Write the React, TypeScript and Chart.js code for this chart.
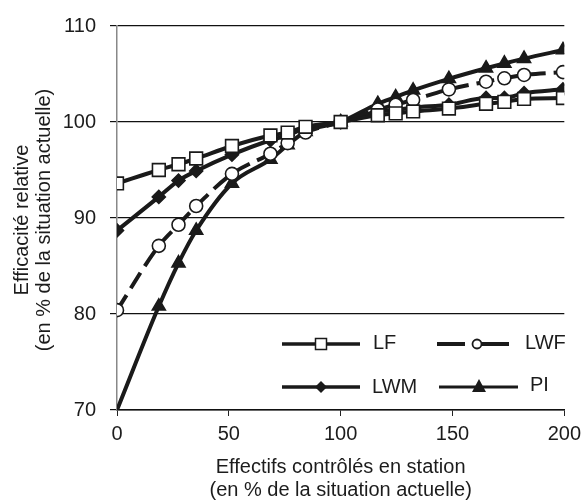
import React, { useEffect, useRef } from 'react';
import { Chart, registerables } from 'chart.js';

Chart.register(...registerables);

const xValues = [0, 18.7, 27.5, 35.4, 51.4, 68.6, 76.3, 84.3, 100, 116.6, 124.6, 132.4, 148.4, 165, 173.2, 182, 199.4];
const lfValues = [93.6, 95.0, 95.6, 96.2, 97.5, 98.6, 98.9, 99.5, 100, 100.7, 100.9, 101.1, 101.4, 101.9, 102.1, 102.4, 102.5];
const lwfValues = [80.4, 87.1, 89.3, 91.25, 94.6, 96.7, 97.8, 98.9, 100, 101.3, 101.8, 102.3, 103.4, 104.2, 104.55, 104.9, 105.2];
const lwmValues = [88.7, 92.2, 93.9, 94.9, 96.6, 98.1, 98.6, 99.4, 100, 101.1, 101.25, 101.5, 101.8, 102.5, 102.5, 103.0, 103.4];
const piValues = [70, 80.8, 85.3, 88.7, 93.6, 96.1, 97.6, 99.0, 100, 101.9, 102.6, 103.3, 104.5, 105.6, 106.1, 106.6, 107.5];

const seriesNames = ['LF', 'LWF', 'LWM', 'PI'];
const xTickMin = 0;
const xTickMax = 200;
const xTickStep = 50;
const yTickMin = 70;
const yTickMax = 110;
const yTickStep = 10;
const yTitle = ['Efficacité relative', '(en % de la situation actuelle)'];
const xTitle = ['Effectifs contrôlés en station', '(en % de la situation actuelle)'];

const FONT = "'Liberation Sans', Arial, sans-serif";
const INK = '#1a1a1a';
const TEXT = '#1c1c1c';

const toPoints = (ys: number[]) => ys.map((y, i) => ({ x: xValues[i], y }));

const decorPlugin = {
  id: 'decor',
  afterDraw(chart: any) {
    const ctx = chart.ctx as CanvasRenderingContext2D;
    const area = chart.chartArea;
    ctx.save();
    ctx.fillStyle = TEXT;
    ctx.font = `20px ${FONT}`;
    ctx.textAlign = 'center';
    ctx.textBaseline = 'middle';
    // y title
    const cy = (area.top + area.bottom) / 2 + 2;
    ctx.save();
    ctx.translate(22, cy);
    ctx.rotate(-Math.PI / 2);
    ctx.fillText(yTitle[0], 0, 0);
    ctx.restore();
    ctx.save();
    ctx.translate(44, cy);
    ctx.rotate(-Math.PI / 2);
    ctx.fillText(yTitle[1], 0, 0);
    ctx.restore();
    // x title
    const cx = (area.left + area.right) / 2;
    ctx.fillText(xTitle[0], cx, 467);
    ctx.fillText(xTitle[1], cx, 490);

    // legend
    const row1 = 344;
    const row2 = 387;
    ctx.strokeStyle = INK;
    ctx.lineWidth = 3.5;
    ctx.lineCap = 'butt';
    // LF
    ctx.beginPath();
    ctx.moveTo(282, row1);
    ctx.lineTo(360, row1);
    ctx.stroke();
    ctx.fillStyle = '#fff';
    ctx.lineWidth = 1.5;
    ctx.fillRect(315.5, row1 - 5.5, 11, 11);
    ctx.strokeRect(315.5, row1 - 5.5, 11, 11);
    // LWM
    ctx.lineWidth = 3.5;
    ctx.beginPath();
    ctx.moveTo(282, row2);
    ctx.lineTo(360, row2);
    ctx.stroke();
    ctx.fillStyle = INK;
    ctx.beginPath();
    ctx.moveTo(321, row2 - 6);
    ctx.lineTo(327, row2);
    ctx.lineTo(321, row2 + 6);
    ctx.lineTo(315, row2);
    ctx.closePath();
    ctx.fill();
    // LWF
    ctx.lineWidth = 4;
    ctx.beginPath();
    ctx.moveTo(437, row1);
    ctx.lineTo(465, row1);
    ctx.moveTo(478, row1);
    ctx.lineTo(509, row1);
    ctx.stroke();
    ctx.fillStyle = '#fff';
    ctx.lineWidth = 1.8;
    ctx.beginPath();
    ctx.arc(477, row1, 4.5, 0, Math.PI * 2);
    ctx.fill();
    ctx.stroke();
    // PI
    ctx.lineWidth = 3;
    ctx.beginPath();
    ctx.moveTo(439, row2);
    ctx.lineTo(518, row2);
    ctx.stroke();
    ctx.fillStyle = INK;
    ctx.beginPath();
    ctx.moveTo(479, row2 - 8);
    ctx.lineTo(486, row2 + 5);
    ctx.lineTo(472, row2 + 5);
    ctx.closePath();
    ctx.fill();
    // legend text
    ctx.fillStyle = TEXT;
    ctx.textAlign = 'left';
    ctx.fillText(seriesNames[0], 373, row1 - 1);
    ctx.fillText(seriesNames[1], 525, row1 - 1);
    ctx.fillText(seriesNames[2], 372, row2);
    ctx.fillText(seriesNames[3], 530, row2 - 2);
    ctx.restore();
  },
};

export default function App() {
  const canvasRef = useRef<HTMLCanvasElement | null>(null);

  useEffect(() => {
    if (!canvasRef.current) return;
    const common = {
      borderColor: INK,
      borderWidth: 4,
      pointBorderColor: INK,
      pointBorderWidth: 1.6,
      cubicInterpolationMode: 'monotone' as const,
      fill: false,
    };
    const chart = new Chart(canvasRef.current, {
      type: 'line',
      data: {
        datasets: [
          {
            ...common,
            label: seriesNames[0],
            data: toPoints(lfValues),
            pointStyle: 'rect',
            pointRadius: 9,
            pointBackgroundColor: '#fff',
          },
          {
            ...common,
            label: seriesNames[1],
            data: toPoints(lwfValues),
            borderDash: [18, 8],
            pointStyle: 'circle',
            pointRadius: 6.5,
            pointBackgroundColor: '#fff',
          },
          {
            ...common,
            label: seriesNames[2],
            data: toPoints(lwmValues),
            pointStyle: 'rectRot',
            pointRadius: 6.5,
            pointBackgroundColor: INK,
          },
          {
            ...common,
            label: seriesNames[3],
            data: toPoints(piValues),
            pointStyle: 'triangle',
            pointRadius: piValues.map((_, i) => (i === 0 ? 0 : 7.5)),
            pointBackgroundColor: INK,
          },
        ],
      },
      options: {
        responsive: false,
        animation: false,
        layout: { padding: { top: 26, right: 20, left: 0, bottom: 0 } },
        plugins: {
          legend: { display: false },
          tooltip: { enabled: false },
        },
        scales: {
          x: {
            type: 'linear',
            min: xTickMin,
            max: xTickMax,
            ticks: {
              stepSize: xTickStep,
              color: TEXT,
              font: { family: FONT, size: 20 },
              padding: 6,
            },
            grid: {
              drawOnChartArea: false,
              drawTicks: true,
              tickLength: 6,
              color: '#222',
            },
            border: { display: true, color: '#111', width: 1.5 },
            afterFit: (s: any) => {
              s.height = 91;
            },
          },
          y: {
            type: 'linear',
            min: yTickMin,
            max: yTickMax,
            ticks: {
              stepSize: yTickStep,
              color: TEXT,
              font: { family: FONT, size: 20 },
              padding: 14,
            },
            grid: {
              color: '#111',
              lineWidth: 1.2,
              tickLength: 7,
            },
            border: { display: true, color: '#888', width: 1.5 },
            afterFit: (s: any) => {
              s.width = 117;
            },
          },
        },
      },
      plugins: [decorPlugin],
    });
    return () => chart.destroy();
  }, []);

  return (
    <div style={{ position: 'fixed', left: 0, top: 0, width: 587, height: 501, background: '#fff' }}>
      <canvas ref={canvasRef} width={587} height={501} />
    </div>
  );
}
